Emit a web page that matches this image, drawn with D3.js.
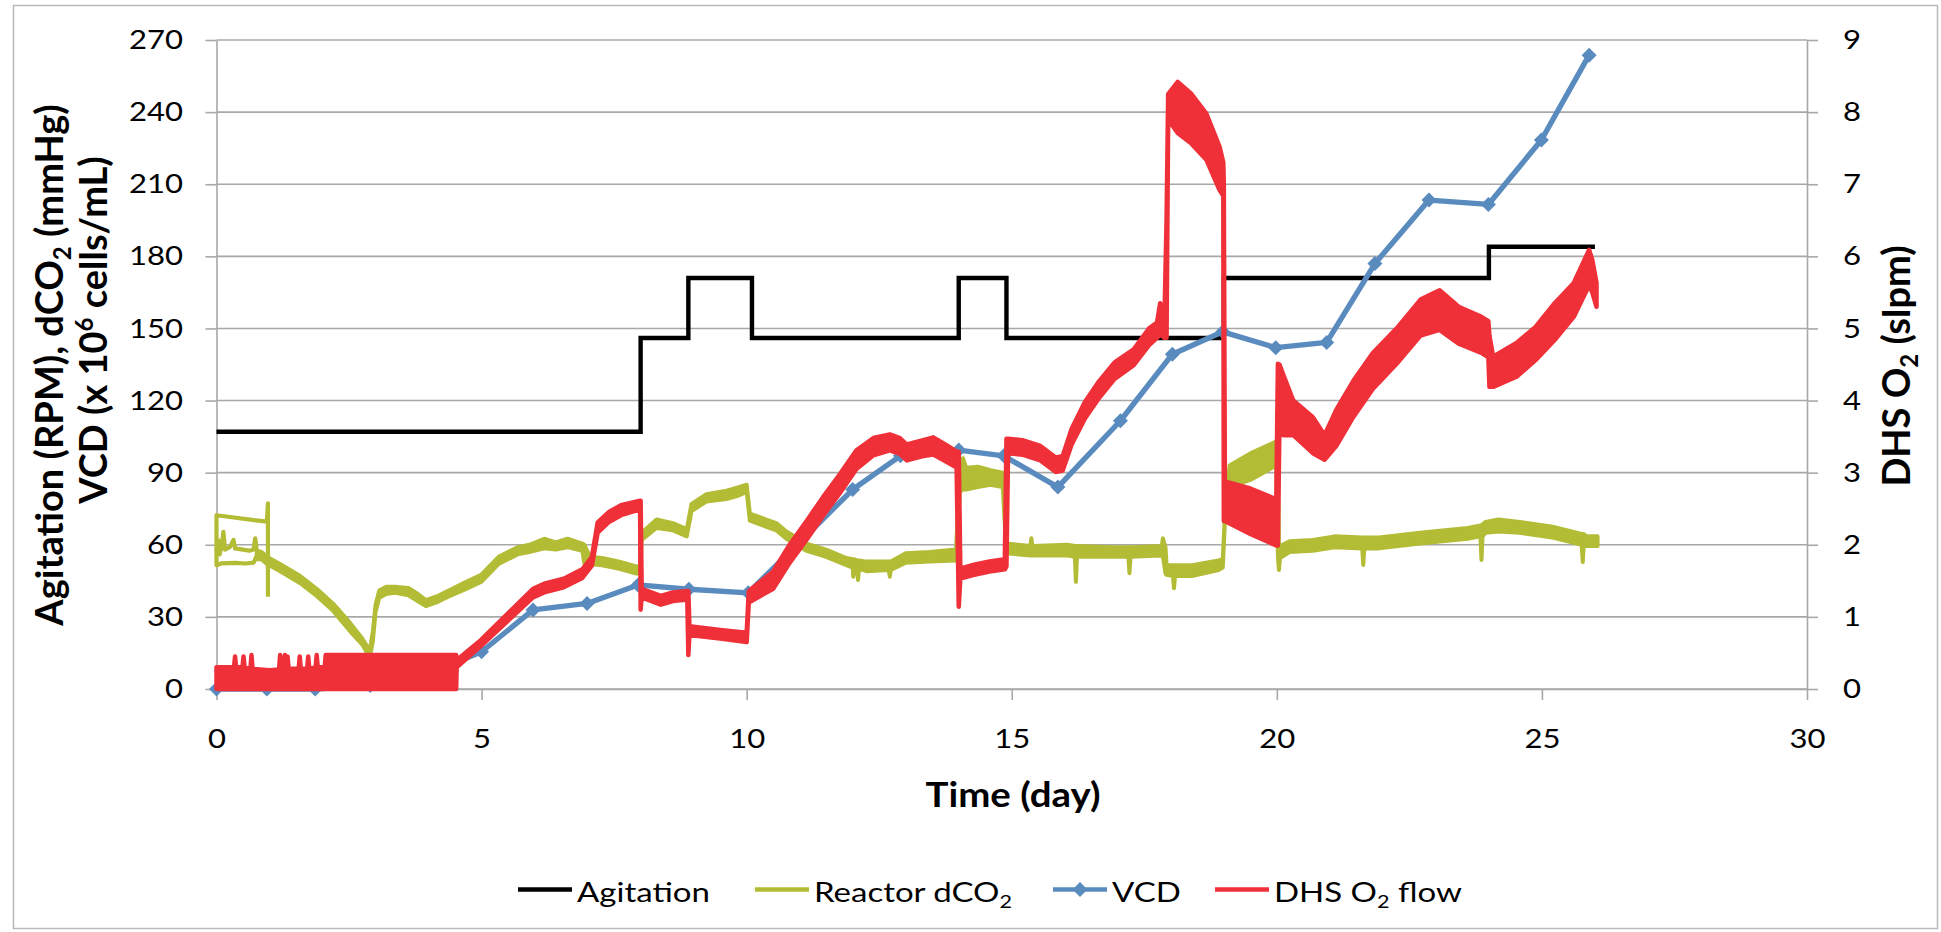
<!DOCTYPE html>
<html>
<head>
<meta charset="utf-8">
<script src="https://cdn.jsdelivr.net/npm/d3@7"></script>
<style>
  html, body { margin: 0; padding: 0; background: #fff; }
  svg { display: block; }
  text { font-family: Lato, "Open Sans", "DejaVu Sans", sans-serif; fill: #000; }
</style>
</head>
<body>
<svg id="chart" width="1941" height="932"></svg>
<script>
// ---- axis ticks and series names ----
const timeTicks  = [0, 5, 10, 15, 20, 25, 30];
const leftTicks  = [0, 30, 60, 90, 120, 150, 180, 210, 240, 270];
const rightTicks = [0, 1, 2, 3, 4, 5, 6, 7, 8, 9];
const seriesNames = ["Agitation", "Reactor dCO\u2082", "VCD", "DHS O\u2082 flow"];

// ---- agitation set point (RPM), held until the next change ----
const agitationDay = [0, 8, 8.9, 10.1, 14, 14.9, 19, 24, 26];
const agitationRpm = [107, 146, 171, 146, 171, 146, 171, 184, 184];

// ---- viable cell density samples (x 10^6 cells/mL) ----
const vcdDay   = [0, 0.95, 1.86, 2.9, 3.9, 5, 5.97, 6.99, 7.95, 8.91, 10.03, 11, 12, 12.9, 14, 14.85,
                  15.87, 17.05, 18.03, 18.98, 19.98, 20.94, 21.85, 22.87, 23.99, 24.99, 25.89];
const vcdValue = [0, 0, 0, 1.5, 5.5, 15.5, 32.9, 35.6, 43.3, 41.5, 40, 61, 83, 97, 99.4, 97,
                  84, 111.6, 139.3, 148.6, 142, 144.2, 177, 203.4, 201.6, 228.4, 263.7];

// ---- reactor dCO2 (mmHg): logged trace, first day recorded twice ----
const co2Return = [[0.97, 38.4], [0.97, 77.2], [0.95, 69.6], [0, 72.3], [0, 51.5], [0.1, 52.3],
                   [0.35, 52.5], [0.55, 52.2], [0.7, 52.6], [0.76, 55.5]];
const co2Upper  = [[0, 57], [0.03, 62], [0.06, 56], [0.1, 60], [0.13, 65.4], [0.16, 58], [0.25, 59],
                   [0.32, 62], [0.35, 58.5], [0.5, 58], [0.62, 57.5], [0.7, 58], [0.73, 62.7],
                   [0.76, 57.5], [0.82, 55]];
// [day, low, high] spread of the noisy signal
const co2Band = [
  [0.76,54,57.5],[0.85,54,57],[0.95,52,55],[1.2,49,52],[1.58,44,47],[1.9,38.5,41.5],[2.2,32.5,35.5],
  [2.52,24,27.5],[2.75,18.5,21],[2.89,13,16],[2.95,20,24],[3.0,32,35],[3.07,38,41],[3.2,39.5,42.5],
  [3.37,40,42.5],[3.62,39,42],[3.8,36.5,39.5],[3.95,34.5,37],[4.15,36,38.5],[4.38,38.5,41],
  [4.7,41.5,44.5],[4.99,44.5,47.5],[5.32,52,55],[5.68,56,59],[5.9,57,60],[6.18,58.5,62.5],
  [6.4,58,61],[6.62,59,62.5],[6.9,57.5,60.5],[6.94,52,60],[6.97,55,58.5],[7.05,52,55],
  [7.27,51.5,54.5],[7.6,50,53],[7.92,48,51],[7.99,48,51],[8.02,62,65],[8.3,67,70.5],[8.61,66,69],
  [8.87,63.5,66.5],[8.96,74,77],[9.24,78,81],[9.62,79,82.5],[9.85,80.5,84],[10.0,82,85],
  [10.06,70,73],[10.37,67.5,70.5],[10.56,66,69],[10.75,62.5,65.5],[11.13,57.5,60.5],[11.5,55,58],
  [11.88,51.5,54.5],[12.0,50.5,54],[12.01,46.7,54],[12.03,50.5,54],[12.08,50,53.5],[12.1,45.3,53.5],
  [12.12,50,53.5],[12.26,49,53],[12.68,49.5,53],[12.7,46.7,53],[12.72,49.5,53],[13.0,52.5,56.5],
  [13.45,53,57],[13.95,53.5,58],[14.02,82,92],[14.08,83,96],[14.14,83,92],
  [14.36,84,92.5],[14.6,85,91],[14.83,84,90],[14.9,56.5,60.5],[15.35,55.5,59.5],[15.37,55.5,62.7],
  [15.39,55.5,59.5],[16.05,55.5,60],[16.19,55,59.5],[16.21,44.6,59.5],[16.23,55,59.5],[16.89,55,59],
  [17.2,55,59],[17.22,48.2,59],[17.24,55,59],
  [17.83,55.5,59.5],[17.85,55.5,62.7],[17.9,48,59],[17.92,47.5,51.5],[18.04,47,51.5],[18.06,41.9,51.5],
  [18.08,47,51.5],[18.4,47,51.5],[18.9,49.5,53.5],[18.98,50.5,54],[19.02,69,72],[19.11,84,93],
  [19.5,87,98],[19.99,93,103],[20.02,55,99],[20.04,49.5,59.5],[20.06,54.5,59.5],[20.24,57,61.5],
  [20.68,57.5,62],[21.09,59,63.5],[21.61,58.5,63],[21.63,51.6,63],[21.65,58.5,63],[21.93,58.5,63],
  [22.7,60.5,65],[23.6,62.5,67],[23.84,63.5,68],[23.86,53.7,68],[23.88,63.5,68.5],[23.94,65,69.5],
  [24.18,65.5,70.5],[24.58,65,69.5],[25.2,63,67.5],[25.75,60,64.5],[25.77,52.8,64.5],[25.79,60,64.5],
  [25.84,59.5,63.5],[26.05,59.5,63.5]
];

// ---- DHS O2 flow (slpm): [day, low, high] spread of the noisy signal ----
const o2Flow = [
  [0,0,0.3],[0.33,0,0.3],[0.35,0,0.45],[0.37,0,0.3],[0.49,0,0.3],[0.51,0,0.45],[0.53,0,0.3],
  [0.64,0,0.28],[0.66,0,0.47],[0.68,0,0.28],[1.0,0,0.26],[1.18,0,0.27],[1.2,0,0.47],[1.22,0,0.28],
  [1.27,0,0.28],[1.29,0,0.47],[1.31,0,0.28],[1.34,0,0.45],[1.36,0,0.28],[1.55,0,0.28],[1.57,0,0.45],
  [1.59,0,0.28],[1.71,0,0.28],[1.73,0,0.45],[1.75,0,0.28],[1.87,0,0.3],[1.89,0,0.47],[1.91,0,0.3],
  [2.04,0,0.3],[2.06,0,0.47],[4.52,0,0.47],[4.53,0.3,0.4],
  [4.99,0.6,0.68],[5.46,0.92,1.02],[5.97,1.27,1.39],[6.18,1.34,1.46],[6.55,1.41,1.53],[6.9,1.54,1.66],
  [7.08,1.71,1.83],[7.19,2.17,2.31],[7.41,2.32,2.46],[7.63,2.41,2.55],[7.99,2.49,2.61],[8.0,1.1,2.61],
  [8.02,1.27,1.39],[8.38,1.17,1.29],[8.61,1.22,1.34],[8.88,1.24,1.36],[8.9,0.47,1.36],[8.92,0.75,0.87],
  [9.5,0.7,0.82],[10.0,0.65,0.78],[10.04,1.2,1.36],[10.5,1.39,1.63],[10.81,1.75,2.0],[11.13,2.07,2.33],
  [11.44,2.4,2.66],[11.76,2.72,2.98],[12.07,3.05,3.31],[12.39,3.24,3.48],[12.7,3.31,3.53],
  [12.89,3.26,3.48],[13.02,3.17,3.39],[13.33,3.23,3.45],[13.52,3.25,3.49],[13.77,3.15,3.38],
  [13.96,3.07,3.29],[14.0,1.14,3.29],[14.03,1.53,1.67],[14.27,1.58,1.72],[14.58,1.63,1.77],
  [14.87,1.66,1.8],[14.9,1.7,3.47],[14.93,3.27,3.47],[15.2,3.25,3.45],[15.54,3.17,3.37],
  [15.83,3.01,3.21],[15.96,3.03,3.23],[16.13,3.39,3.61],[16.38,3.75,3.98],[16.63,4.02,4.25],
  [16.94,4.3,4.53],[17.3,4.49,4.71],[17.59,4.77,5.0],[17.74,4.87,5.08],[17.8,4.92,5.35],
  [17.88,4.87,5.12],[17.92,4.87,6.5],[17.95,7.9,8.25],[18.13,7.71,8.42],[18.38,7.57,8.26],
  [18.67,7.34,7.98],[18.92,6.92,7.52],[18.99,6.84,7.3],[19.0,2.33,7.0],[19.02,2.33,2.88],
  [19.5,2.15,2.78],[19.99,1.99,2.63],[20.02,1.99,4.51],[20.05,3.7,4.5],[20.12,3.52,4.36],
  [20.31,3.52,4.0],[20.68,3.27,3.77],[20.9,3.18,3.52],[21.12,3.37,3.87],[21.44,3.77,4.27],
  [21.81,4.16,4.66],[22.26,4.51,5.0],[22.71,4.9,5.4],[23.07,4.98,5.53],[23.43,4.79,5.3],
  [23.86,4.66,5.16],[23.99,4.6,5.1],[24.01,4.19,4.9],[24.08,4.19,4.61],[24.52,4.33,4.8],
  [24.88,4.56,5.02],[25.24,4.84,5.35],[25.6,5.16,5.63],[25.89,5.6,6.09],[25.95,5.5,5.95],
  [26.03,5.3,5.63]
];

// ---- drawing ----
const colors = { agitation: "#000000", co2: "#b3bc35", vcd: "#5a8bbf", o2: "#ef3038" };
const gridColor = "#a8a8a8";
const sxTick = 1.15, sxLegend = 1.2, sxTitle = 1.13;   // horizontal widening of upright text

const svg = d3.select("#chart");

const x  = d3.scaleLinear().domain([0, 30]).range([216.5, 1807]);
const yL = d3.scaleLinear().domain([0, 270]).range([689, 40]);
const yR = d3.scaleLinear().domain([0, 9]).range([689, 40]);

// outer frame
svg.append("rect")
  .attr("x", 13.5).attr("y", 5.5).attr("width", 1924).attr("height", 923)
  .attr("fill", "#fff").attr("stroke", "#b8b8b8").attr("stroke-width", 1.5);

// horizontal gridlines
svg.append("g").selectAll("line").data(leftTicks).join("line")
  .attr("x1", x(0)).attr("x2", x(30))
  .attr("y1", d => yL(d)).attr("y2", d => yL(d))
  .attr("stroke", gridColor).attr("stroke-width", 1.6);

function styleAxis(g) {
  g.select(".domain").attr("stroke", gridColor).attr("stroke-width", 1.6);
  g.selectAll(".tick line").attr("stroke", gridColor).attr("stroke-width", 1.6);
  g.selectAll(".tick text").style("font-size", "27px").attr("fill", "#000");
}

// left axis
const gL = svg.append("g").attr("transform", `translate(${x(0)},0)`)
  .call(d3.axisLeft(yL).tickValues(leftTicks).tickSize(11).tickSizeOuter(0));
styleAxis(gL);
gL.selectAll(".tick text").attr("x", -33.5 / sxTick).attr("transform", `scale(${sxTick},1)`);

// right axis
const gR = svg.append("g").attr("transform", `translate(${x(30)},0)`)
  .call(d3.axisRight(yR).tickValues(rightTicks).tickSize(11).tickSizeOuter(0));
styleAxis(gR);
gR.selectAll(".tick text").attr("x", 36 / sxTick).attr("transform", `scale(${sxTick},1)`);

// bottom axis
const gB = svg.append("g").attr("transform", `translate(0,${yL(0)})`)
  .call(d3.axisBottom(x).tickValues(timeTicks).tickSize(11).tickSizeOuter(0));
styleAxis(gB);
gB.selectAll(".tick text").attr("y", 59).attr("dy", 0).attr("transform", `scale(${sxTick},1)`);

// axis titles
svg.append("text")
  .attr("transform", `translate(${1013},807) scale(${sxTitle},1)`)
  .attr("text-anchor", "middle").style("font-size", "34px").style("font-weight", 700)
  .text("Time (day)");

const lt1 = svg.append("text").attr("transform", "translate(63,365) rotate(-90)")
  .attr("text-anchor", "middle").style("font-size", "38px").style("font-weight", 700);
lt1.append("tspan").text("Agitation (RPM), dCO");
lt1.append("tspan").attr("dy", 8).style("font-size", "24px").text("2");
lt1.append("tspan").attr("dy", -8).text(" (mmHg)");

const lt2 = svg.append("text").attr("transform", "translate(107,330) rotate(-90)")
  .attr("text-anchor", "middle").style("font-size", "38px").style("font-weight", 700);
lt2.append("tspan").text("VCD (x 10");
lt2.append("tspan").attr("dy", -14).style("font-size", "24px").text("6");
lt2.append("tspan").attr("dy", 14).text(" cells/mL)");

const rt = svg.append("text").attr("transform", "translate(1910,366) rotate(-90)")
  .attr("text-anchor", "middle").style("font-size", "38px").style("font-weight", 700);
rt.append("tspan").text("DHS O");
rt.append("tspan").attr("dy", 8).style("font-size", "24px").text("2");
rt.append("tspan").attr("dy", -8).text(" (slpm)");

// series
const plot = svg.append("g");

// agitation step trace
const agitationPts = agitationDay.map((d, i) => [d, agitationRpm[i]]);
plot.append("path").datum(agitationPts)
  .attr("d", d3.line().x(d => x(d[0])).y(d => yL(d[1])).curve(d3.curveStepAfter))
  .attr("fill", "none").attr("stroke", colors.agitation).attr("stroke-width", 4.4);

// dCO2
const lineL = d3.line().x(d => x(d[0])).y(d => yL(d[1]));
[co2Return, co2Upper].forEach(seg => {
  plot.append("path").datum(seg).attr("d", lineL)
    .attr("fill", "none").attr("stroke", colors.co2).attr("stroke-width", 4.2)
    .attr("stroke-linejoin", "round");
});
plot.append("path").datum(co2Band)
  .attr("d", d3.area().x(d => x(d[0])).y0(d => yL(d[1])).y1(d => yL(d[2])))
  .attr("fill", colors.co2).attr("stroke", colors.co2).attr("stroke-width", 4)
  .attr("stroke-linejoin", "round");

// VCD line with diamond markers
const vcdPts = vcdDay.map((d, i) => [d, vcdValue[i]]);
plot.append("path").datum(vcdPts).attr("d", lineL)
  .attr("fill", "none").attr("stroke", colors.vcd).attr("stroke-width", 5.4)
  .attr("stroke-linejoin", "round");
const diamond = "M0,-7.5L7.5,0L0,7.5L-7.5,0Z";
plot.append("g").selectAll("path").data(vcdPts).join("path")
  .attr("d", diamond)
  .attr("transform", d => `translate(${x(d[0])},${yL(d[1])})`)
  .attr("fill", colors.vcd);

// DHS O2 flow on the right axis
plot.append("path").datum(o2Flow)
  .attr("d", d3.area().x(d => x(d[0])).y0(d => yR(d[1])).y1(d => yR(d[2])))
  .attr("fill", colors.o2).attr("stroke", colors.o2).attr("stroke-width", 4.5)
  .attr("stroke-linejoin", "round");

// legend
const legendItems = [
  { name: seriesNames[0], color: colors.agitation, x0: 518, marker: false },
  { name: seriesNames[1], color: colors.co2,       x0: 755, marker: false },
  { name: seriesNames[2], color: colors.vcd,       x0: 1053, marker: true },
  { name: seriesNames[3], color: colors.o2,        x0: 1215, marker: false }
];
const lg = svg.append("g");
legendItems.forEach(it => {
  const g = lg.append("g");
  g.append("line").attr("x1", it.x0).attr("x2", it.x0 + 54)
    .attr("y1", 889.5).attr("y2", 889.5)
    .attr("stroke", it.color).attr("stroke-width", 4.5);
  if (it.marker) {
    g.append("path").attr("d", diamond)
      .attr("transform", `translate(${it.x0 + 27},889.5)`).attr("fill", it.color);
  }
  const t = g.append("text")
    .attr("transform", `translate(${it.x0 + 59},901.5) scale(${sxLegend},1)`)
    .style("font-size", "27.5px");
  // the subscript 2 in "CO2" / "O2" is drawn as a lowered small digit
  const parts = it.name.split("\u2082");
  parts.forEach((p, i) => {
    if (i > 0) t.append("tspan").attr("dy", 6).style("font-size", "18px").text("2");
    t.append("tspan").attr("dy", i > 0 ? -6 : 0).text(p);
  });
});
</script>
</body>
</html>
